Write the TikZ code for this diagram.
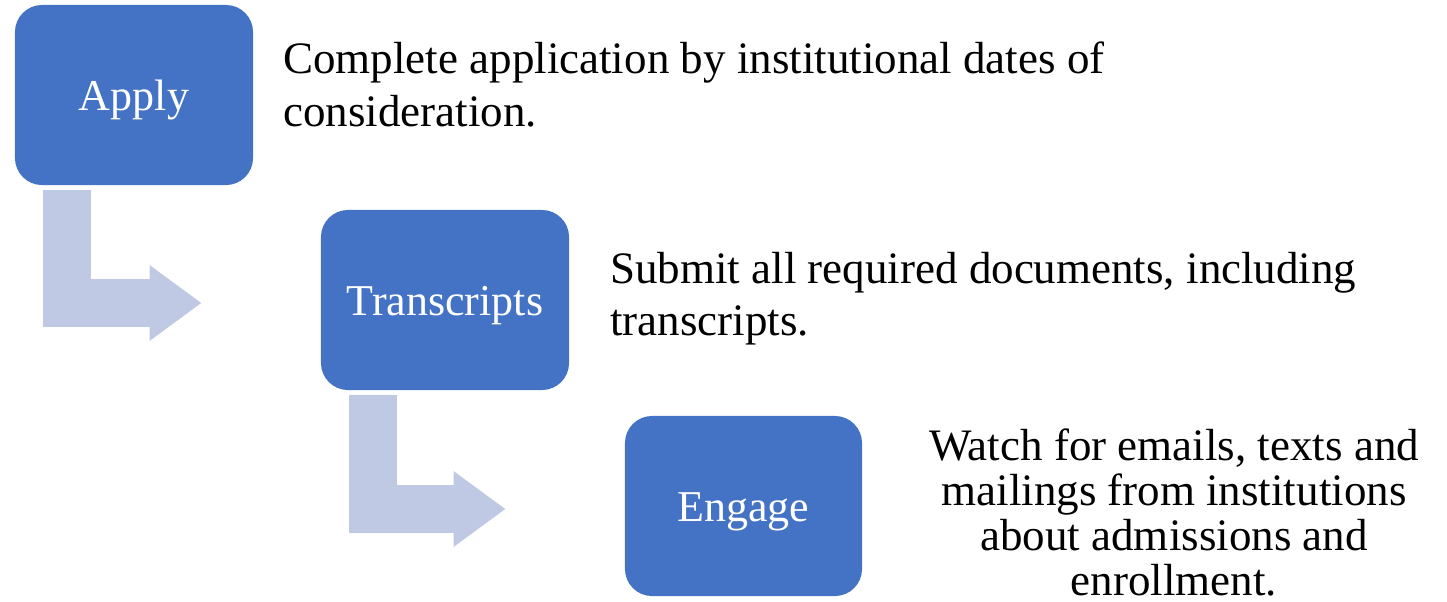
\documentclass[tikz,border=0pt]{standalone}
\usepackage{fontspec}
\setmainfont{Liberation Serif}
\usetikzlibrary{arrows.meta,calc}
\definecolor{boxblue}{RGB}{68,114,196}
\definecolor{bendblue}{RGB}{191,201,228}
\begin{document}
\begin{tikzpicture}[x=0.025cm,y=-0.025cm,
  stepbox/.style={fill=boxblue,rounded corners=0.675cm,text=white,inner sep=0pt,
    minimum height=4.5cm,text height=22pt,text depth=0.2pt,font=\fontsize{31.3}{36}\selectfont},
  bendarrow/.style={draw=bendblue,line width=1.2cm,-{Triangle[length=1.3cm,width=1.8cm]}},
  note/.style={inner sep=0pt,font=\fontsize{32}{37}\selectfont}]
\useasboundingbox (0,0) rectangle (1447,601);
\node[stepbox,minimum width=5.95cm] (apply) at (134,95) {Apply};
\node[stepbox,minimum width=6.2cm] (transcripts) at (445,300) {Transcripts};
\node[stepbox,minimum width=5.925cm] (engage) at (743.5,506) {Engage};
\draw[bendarrow] ($(apply.south west)+(52,5)$) |- ($(transcripts.west)+(-119,3)$);
\draw[bendarrow] ($(transcripts.south west)+(52,5)$) |- ($(engage.west)+(-119,3)$);
\node[note,anchor=north west,align=left] (applytext) at (283,42)
  {Complete application by institutional dates of\\consideration.};
\node[note,anchor=north west,align=left] (transcriptstext) at (610,252)
  {Submit all required documents, including\\transcripts.};
\node[note,anchor=north,align=center,font=\fontsize{32}{32}\selectfont] (engagetext) at (1174,429)
  {Watch for emails, texts and\\mailings from institutions\\about admissions and\\enrollment.};
\end{tikzpicture}
\end{document}
